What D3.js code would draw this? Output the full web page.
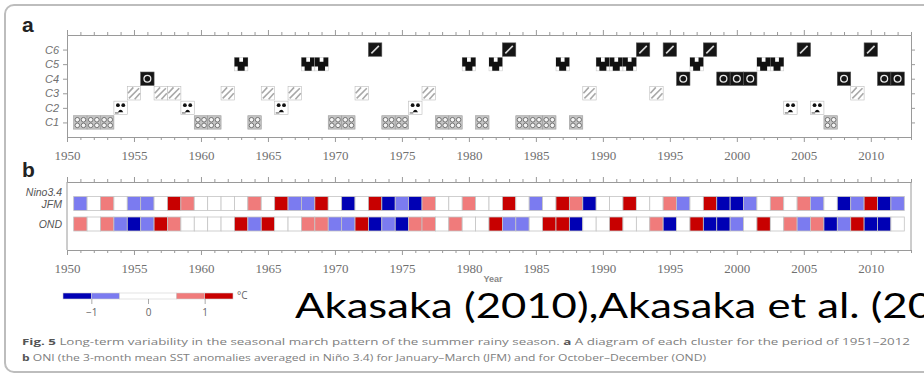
<!DOCTYPE html>
<html><head><meta charset="utf-8">
<script src="https://cdn.jsdelivr.net/npm/d3@7"></script>
<style>html,body{margin:0;padding:0;background:#fff;overflow:hidden}</style>
</head><body>
<svg id="fig" width="924" height="377"></svg>
<script>
// Years covered by the cluster diagram and the ONI strips
const years = d3.range(1951, 2013);

// Seasonal-march cluster (1..6 => C1..C6) for each year 1951-2012
const cluster = [1,1,1,2,3,4,3,3,2,1, 1,3,5,1,3,2,3,5,5,1, 1,3,6,1,1,2,3,1,1,5,
                 1,5,6,1,1,1,5,1,3,5, 5,5,6,3,6,4,5,6,4,4, 4,5,5,2,6,2,1,4,3,6, 4,4];
const clusterLabels = ["C1","C2","C3","C4","C5","C6"];

// ONI (Nino3.4 SST anomaly, degC) for January-March and October-December
const oniJFM = [-0.7,0,0.7,0,-0.7,-0.7,0,1.3,0.7,0, 0,0,0,0.7,0,1.3,-0.7,-0.7,1.3,0,
                -1.3,0,1.3,-1.3,-0.7,-1.3,0.7,0,0,0.7, 0,0,1.3,0,-0.7,0,1.3,0.7,-1.3,0,
                0,1.3,0,0,0.7,-0.7,0,1.3,-1.3,-1.3, -0.7,0,0.7,0,0.7,-0.7,0,-1.3,-0.7,1.3,
                -1.3,-0.7];
const oniOND = [0.7,0,0.7,-0.7,-1.3,-0.7,1.3,0.7,0,0, 0,0,1.3,-0.7,1.3,0,0,0.7,0.7,-0.7,
                -0.7,1.3,-1.3,-0.7,-1.3,0.7,0.7,0,0.7,0, 0,1.3,-0.7,-0.7,0,1.3,1.3,-1.3,0,0,
                1.3,0,0,0.7,-1.3,0,1.3,-1.3,-1.3,-0.7, 0,1.3,0,0.7,-0.7,0.7,-1.3,-0.7,1.3,-1.3,
                -1.3,0];
const seasons = ["JFM","OND"];

const yearTicks = [1950,1955,1960,1965,1970,1975,1980,1985,1990,1995,2000,2005,2010];
const legendBreaks = [-1.5,-1,-0.5,0.5,1,1.5];
const legendTicks = [-1,0,1];
const oniColors = ["#0000b4","#7b7bf0","#ffffff","#f07b7b","#c80000"];

const svg = d3.select("#fig");
svg.append("rect").attr("width",924).attr("height",377).attr("fill","#fff");

// frame around the figure
svg.append("rect").attr("x",5).attr("y",5).attr("width",960).attr("height",367)
  .attr("rx",9).attr("fill","none").attr("stroke","#bdbdbd").attr("stroke-width",2);

const axisCol = "#9a9a9a";
const x = d3.scaleLinear().domain([1950, 2013]).range([67, 911]);
const cw = x(1951) - x(1950);
const allYears = d3.range(1950, 2014);

function styleAxis(g){
  g.selectAll("path.domain").attr("stroke",axisCol);
  g.selectAll(".tick line").attr("stroke",axisCol);
  g.selectAll("text").attr("fill","#707070");
}
function yearAxis(gen, y, withLabels, pad){
  const g = svg.append("g").attr("transform",`translate(0,${y})`)
    .call(gen(x).tickValues(allYears).tickSizeOuter(0)
      .tickSize(3)
      .tickPadding(pad || 3)
      .tickFormat(d => (withLabels && yearTicks.includes(d)) ? d : ""));
  g.selectAll(".tick").filter(d => d % 5 === 0).select("line")
    .attr("y2", gen === d3.axisTop ? -5 : 5);
  g.selectAll("text").attr("font-family","'Liberation Serif', serif").attr("font-size",13);
  styleAxis(g);
  return g;
}

// ---------- panel a : cluster diagram ----------
const ya = d3.scaleLinear().domain([0, 7]).range([137, 35]);
yearAxis(d3.axisTop, 35, false);
yearAxis(d3.axisBottom, 137, true, 11);
const la = svg.append("g").attr("transform",`translate(${x(1950)},0)`)
  .call(d3.axisLeft(ya).tickValues([1,2,3,4,5,6]).tickSize(4).tickSizeOuter(0)
    .tickFormat(d => clusterLabels[d-1]));
la.selectAll("text").attr("font-family","'Liberation Sans', Arial, sans-serif")
  .attr("font-style","italic").attr("font-size",11).attr("dx",-1);
styleAxis(la);
const ra = svg.append("g").attr("transform",`translate(${x(2013)},0)`)
  .call(d3.axisRight(ya).tickValues([1,2,3,4,5,6]).tickSize(4).tickSizeOuter(0).tickFormat(""));
styleAxis(ra);

svg.append("text").attr("x",22).attr("y",32).text("a")
  .attr("font-family","'Liberation Sans', Arial, sans-serif").attr("font-weight","bold")
  .attr("font-size",21).attr("fill","#222");

const bw = cw, bh = 13.4;
function glyph(g, c){
  const w = bw, h = bh;
  if (c === 1){
    g.append("rect").attr("width",w).attr("height",h).attr("fill","#c4c4c4").attr("stroke","#9a9a9a").attr("stroke-width",0.6);
    [[0.27,0.3],[0.73,0.3],[0.27,0.72],[0.73,0.72]].forEach(p =>
      g.append("circle").attr("cx",p[0]*w).attr("cy",p[1]*h).attr("r",2.3)
        .attr("fill","#f4f4f4").attr("stroke","#6a6a6a").attr("stroke-width",0.9));
  } else if (c === 2){
    g.append("rect").attr("width",w).attr("height",h).attr("fill","#fff").attr("stroke","#bbb").attr("stroke-width",0.6);
    [[0.3,0.3],[0.7,0.3]].forEach(p =>
      g.append("circle").attr("cx",p[0]*w).attr("cy",p[1]*h).attr("r",1.9).attr("fill","#111"));
    g.append("path").attr("d",`M${0.3*w},${0.82*h} Q${0.5*w},${0.45*h} ${0.7*w},${0.82*h} Z`).attr("fill","#111");
    g.append("line").attr("x1",0.08*w).attr("x2",0.35*w).attr("y1",0.88*h).attr("y2",0.88*h)
      .attr("stroke","#444").attr("stroke-width",0.9);
  } else if (c === 3){
    g.append("rect").attr("width",w).attr("height",h).attr("fill","#fff").attr("stroke","#bbb").attr("stroke-width",0.6);
    [[0.12,0.88,0.88,0.12],[0.05,0.5,0.45,0.06],[0.55,0.95,0.95,0.5]].forEach(l =>
      g.append("line").attr("x1",l[0]*w).attr("y1",l[1]*h).attr("x2",l[2]*w).attr("y2",l[3]*h)
        .attr("stroke","#a8a8a8").attr("stroke-width",1.6));
  } else if (c === 4){
    g.append("rect").attr("width",w).attr("height",h).attr("fill","#151515").attr("stroke","#555").attr("stroke-width",0.6);
    g.append("circle").attr("cx",w/2).attr("cy",h/2).attr("r",3.4)
      .attr("fill","none").attr("stroke","#e8e8e8").attr("stroke-width",1.3);
    g.append("circle").attr("cx",w/2).attr("cy",h/2).attr("r",1.3).attr("fill","#151515");
  } else if (c === 5){
    g.append("rect").attr("width",w).attr("height",h).attr("fill","#fff").attr("stroke","#ccc").attr("stroke-width",0.6);
    g.append("path").attr("fill","#111").attr("d",
      `M0,0 H${0.36*w} V${0.32*h} H${0.64*w} V0 H${w} V${0.68*h} H${0.76*w} V${h} H${0.24*w} V${0.68*h} H0 Z`);
  } else {
    g.append("rect").attr("width",w).attr("height",h).attr("fill","#151515").attr("stroke","#555").attr("stroke-width",0.6);
    g.append("line").attr("x1",0.22*w).attr("y1",0.78*h).attr("x2",0.78*w).attr("y2",0.22*h)
      .attr("stroke","#d8d8d8").attr("stroke-width",1.6);
  }
}
const cells = svg.append("g").selectAll("g").data(years.map((yr,i) => ({yr, c: cluster[i]})))
  .join("g").attr("transform", d => `translate(${x(d.yr) - bw/2},${ya(d.c) - bh/2})`);
cells.each(function(d){ glyph(d3.select(this), d.c); });

// ---------- panel b : ONI strips ----------
const yTop = 182, yBot = 250;
const yb = d3.scalePoint().domain(seasons).range([203.5, 224]);
const color = d3.scaleThreshold().domain([-1,-0.5,0.5,1]).range(oniColors);
yearAxis(d3.axisTop, yTop, false);
yearAxis(d3.axisBottom, yBot, true, 11);
svg.append("line").attr("x1",x(1950)).attr("x2",x(1950)).attr("y1",yTop).attr("y2",yBot).attr("stroke",axisCol);
svg.append("line").attr("x1",x(2013)).attr("x2",x(2013)).attr("y1",yTop).attr("y2",yBot).attr("stroke",axisCol);

svg.append("text").attr("x",22).attr("y",177).text("b")
  .attr("font-family","'Liberation Sans', Arial, sans-serif").attr("font-weight","bold")
  .attr("font-size",21).attr("fill","#222");

const rowLab = svg.append("g").attr("font-family","'Liberation Sans', Arial, sans-serif")
  .attr("font-style","italic").attr("font-size",10.5).attr("fill","#555").attr("text-anchor","end");
rowLab.append("text").attr("x",62).attr("y",196).text("Nino3.4");
seasons.forEach(s => rowLab.append("text").attr("x",62).attr("y",yb(s)+4).text(s));

const bh2 = 14;
[["JFM",oniJFM],["OND",oniOND]].forEach(([s, vals]) => {
  svg.append("g").selectAll("rect").data(years.map((yr,i) => ({yr, v: vals[i]})))
    .join("rect")
    .attr("x", d => x(d.yr) - cw/2).attr("width", cw)
    .attr("y", yb(s) - bh2/2).attr("height", bh2)
    .attr("fill", d => color(d.v))
    .attr("stroke", "#c4c4c4").attr("stroke-width", 0.8);
});

svg.append("text").attr("x",493).attr("y",282).text("Year").attr("text-anchor","middle")
  .attr("font-family","'Liberation Sans', Arial, sans-serif").attr("font-weight","bold")
  .attr("font-size",9).attr("fill","#888");

// ---------- colour legend ----------
const lx = d3.scaleLinear().domain([-1.5, 1.5]).range([63, 233]);
const lg = svg.append("g");
lg.selectAll("rect").data(d3.range(5)).join("rect")
  .attr("x", i => lx(legendBreaks[i])).attr("width", i => lx(legendBreaks[i+1]) - lx(legendBreaks[i]))
  .attr("y", 293).attr("height", 6)
  .attr("fill", i => oniColors[i]).attr("stroke","#d0d0d0").attr("stroke-width",0.6);
const lax = lg.append("g").attr("transform","translate(0,299)")
  .call(d3.axisBottom(lx).tickValues(legendTicks).tickSize(5).tickPadding(5).tickFormat(d => d === -1 ? "−1" : d));
lax.select("path.domain").remove();
lax.selectAll("line").attr("stroke","#aaa");
lax.selectAll("text").attr("fill","#666").attr("font-size",10)
  .attr("font-family","'Open Sans', 'Liberation Sans', sans-serif");
lg.append("text").attr("x",237).attr("y",299).text("°C").attr("fill","#666")
  .attr("font-size",10).attr("font-family","'Open Sans', 'Liberation Sans', sans-serif");

// ---------- citation banner ----------
const big = svg.append("text").attr("x",295).attr("y",318)
  .attr("font-family","Lato, 'Open Sans', sans-serif").attr("font-size",35).attr("fill","#000")
  .text("Akasaka (2010),Akasaka et al. (20");
big.attr("textLength", 638).attr("lengthAdjust","spacingAndGlyphs");

// ---------- caption ----------
const capFont = "'Open Sans', 'Noto Sans', sans-serif";
const cap1 = svg.append("text").attr("x",22).attr("y",345).attr("font-family",capFont)
  .attr("font-size",9.6).attr("fill","#808080")
  .attr("textLength",888).attr("lengthAdjust","spacingAndGlyphs");
cap1.append("tspan").attr("font-weight","bold").attr("fill","#555").text("Fig. 5");
cap1.append("tspan").text(" Long-term variability in the seasonal march pattern of the summer rainy season. ");
cap1.append("tspan").attr("font-weight","bold").attr("fill","#555").text("a");
cap1.append("tspan").text(" A diagram of each cluster for the period of 1951–2012");
const cap2 = svg.append("text").attr("x",22).attr("y",361).attr("font-family",capFont)
  .attr("font-size",9.6).attr("fill","#808080")
  .attr("textLength",684).attr("lengthAdjust","spacingAndGlyphs");
cap2.append("tspan").attr("font-weight","bold").attr("fill","#555").text("b");
cap2.append("tspan").text(" ONI (the 3-month mean SST anomalies averaged in Niño 3.4) for January–March (JFM) and for October–December (OND)");
</script>
</body></html>
